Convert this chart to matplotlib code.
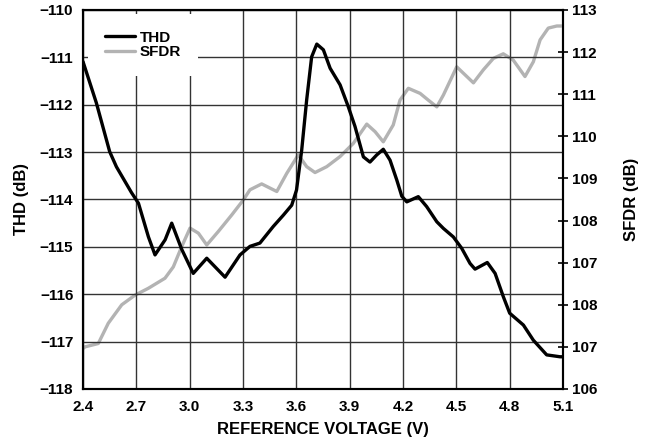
import numpy as np
import matplotlib.pyplot as plt

plt.rcParams['font.family'] = ['Liberation Sans', 'DejaVu Sans']
plt.rcParams['font.weight'] = 'bold'
plt.rcParams['font.size'] = 11

# THD curve (left axis, dB)
thd_v = [2.400, 2.475, 2.550, 2.588, 2.672, 2.712, 2.768, 2.805, 2.862, 2.899,
         2.955, 3.020, 3.096, 3.199, 3.283, 3.339, 3.395, 3.470, 3.527, 3.574,
         3.601, 3.630, 3.658, 3.686, 3.715, 3.752, 3.790, 3.846, 3.892, 3.930,
         3.977, 4.014, 4.052, 4.089, 4.127, 4.165, 4.193, 4.221, 4.286, 4.333,
         4.390, 4.427, 4.483, 4.530, 4.577, 4.605, 4.674, 4.718, 4.764, 4.800,
         4.877, 4.933, 5.008, 5.083, 5.100]
thd_db = [-111.09, -111.96, -112.99, -113.31, -113.85, -114.08, -114.79, -115.17, -114.85, -114.50,
          -115.05, -115.56, -115.24, -115.64, -115.17, -114.99, -114.92, -114.57, -114.33, -114.12,
          -113.80, -112.96, -111.90, -110.99, -110.72, -110.84, -111.23, -111.58, -112.04, -112.46,
          -113.10, -113.21, -113.06, -112.94, -113.17, -113.59, -113.93, -114.05, -113.94, -114.15,
          -114.47, -114.61, -114.79, -115.03, -115.35, -115.47, -115.33, -115.56, -116.05, -116.40,
          -116.65, -116.97, -117.28, -117.32, -117.32]

# SFDR curve (right axis, dB)
sfdr_v = [2.400, 2.411, 2.486, 2.542, 2.618, 2.693, 2.767, 2.861, 2.908, 2.955,
          3.002, 3.049, 3.096, 3.161, 3.236, 3.302, 3.339, 3.405, 3.452, 3.490,
          3.546, 3.611, 3.658, 3.705, 3.771, 3.846, 3.920, 3.996, 4.043, 4.089,
          4.145, 4.183, 4.230, 4.296, 4.342, 4.390, 4.427, 4.502, 4.549, 4.596,
          4.652, 4.708, 4.764, 4.820, 4.886, 4.933, 4.971, 5.017, 5.065, 5.100]
sfdr_db = [104.96, 105.00, 105.08, 105.56, 106.00, 106.23, 106.39, 106.63, 106.90, 107.38,
           107.82, 107.70, 107.42, 107.74, 108.13, 108.49, 108.73, 108.87, 108.77, 108.69,
           109.12, 109.56, 109.28, 109.14, 109.28, 109.52, 109.83, 110.29, 110.11, 109.87,
           110.27, 110.86, 111.14, 111.02, 110.86, 110.70, 110.98, 111.65, 111.46, 111.27,
           111.58, 111.85, 111.96, 111.81, 111.42, 111.77, 112.29, 112.57, 112.62, 112.62]

x_ticks = [2.4, 2.7, 3.0, 3.3, 3.6, 3.9, 4.2, 4.5, 4.8, 5.1]
thd_ticks = [-118, -117, -116, -115, -114, -113, -112, -111, -110]
sfdr_ticks = [104, 105, 106, 107, 108, 109, 110, 111, 112, 113]
sfdr_labels = ['106', '107', '108', '107', '108', '109', '110', '111', '112', '113']

fig = plt.figure(figsize=(6.5, 4.44), dpi=100)
ax = fig.add_axes([0.1277, 0.1239, 0.7385, 0.8536])
ax2 = ax.twinx()

ax.set_xlim(2.4, 5.1)
ax.set_ylim(-118, -110)
ax.set_xticks(x_ticks)
ax.set_xticklabels(['%.1f' % v for v in x_ticks])
ax.set_yticks(thd_ticks)
ax.set_yticklabels(['\u2212%d' % -v for v in thd_ticks])
ax.grid(True, color='#333333', linewidth=1.0)
ax.tick_params(axis='y', length=0, pad=7)
ax.tick_params(axis='x', length=0, pad=8)
ax.set_axisbelow(True)

ax2.set_ylim(104, 113)
ax2.set_yticks(sfdr_ticks)
ax2.set_yticklabels(sfdr_labels)
ax2.tick_params(axis='y', direction='inout', length=6.5, width=1.2, pad=3.5)

for a in (ax, ax2):
    for s in a.spines.values():
        s.set_linewidth(1.5)
        s.set_color('black')

l1, = ax.plot(thd_v, thd_db, color='black', lw=2.4, solid_joinstyle='round',
              solid_capstyle='round', label='THD', zorder=4)
l2, = ax2.plot(sfdr_v, sfdr_db, color='#b3b3b3', lw=2.4, solid_joinstyle='round',
               solid_capstyle='round', label='SFDR', zorder=3)
ax.set_zorder(ax2.get_zorder() + 1)
ax.patch.set_visible(False)

ax.set_xlabel('REFERENCE VOLTAGE (V)', fontweight='bold', fontsize=12, labelpad=6)
ax.set_ylabel('THD (dB)', fontweight='bold', fontsize=12, labelpad=8)
ax2.set_ylabel('SFDR (dB)', fontweight='bold', fontsize=12, labelpad=19)

leg = ax.legend(handles=[l1, l2], loc='upper left', bbox_to_anchor=(0.01, 0.99),
                frameon=True, fancybox=False, edgecolor='none', framealpha=1,
                handlelength=2.0, handletextpad=0.3, labelspacing=0.05, borderpad=1.1,
                borderaxespad=0, prop={'weight': 'bold', 'size': 11})
# keep the THD trace on top of the legend's white box
leg.set_zorder(3)

fig.savefig('out.png', dpi=100)
